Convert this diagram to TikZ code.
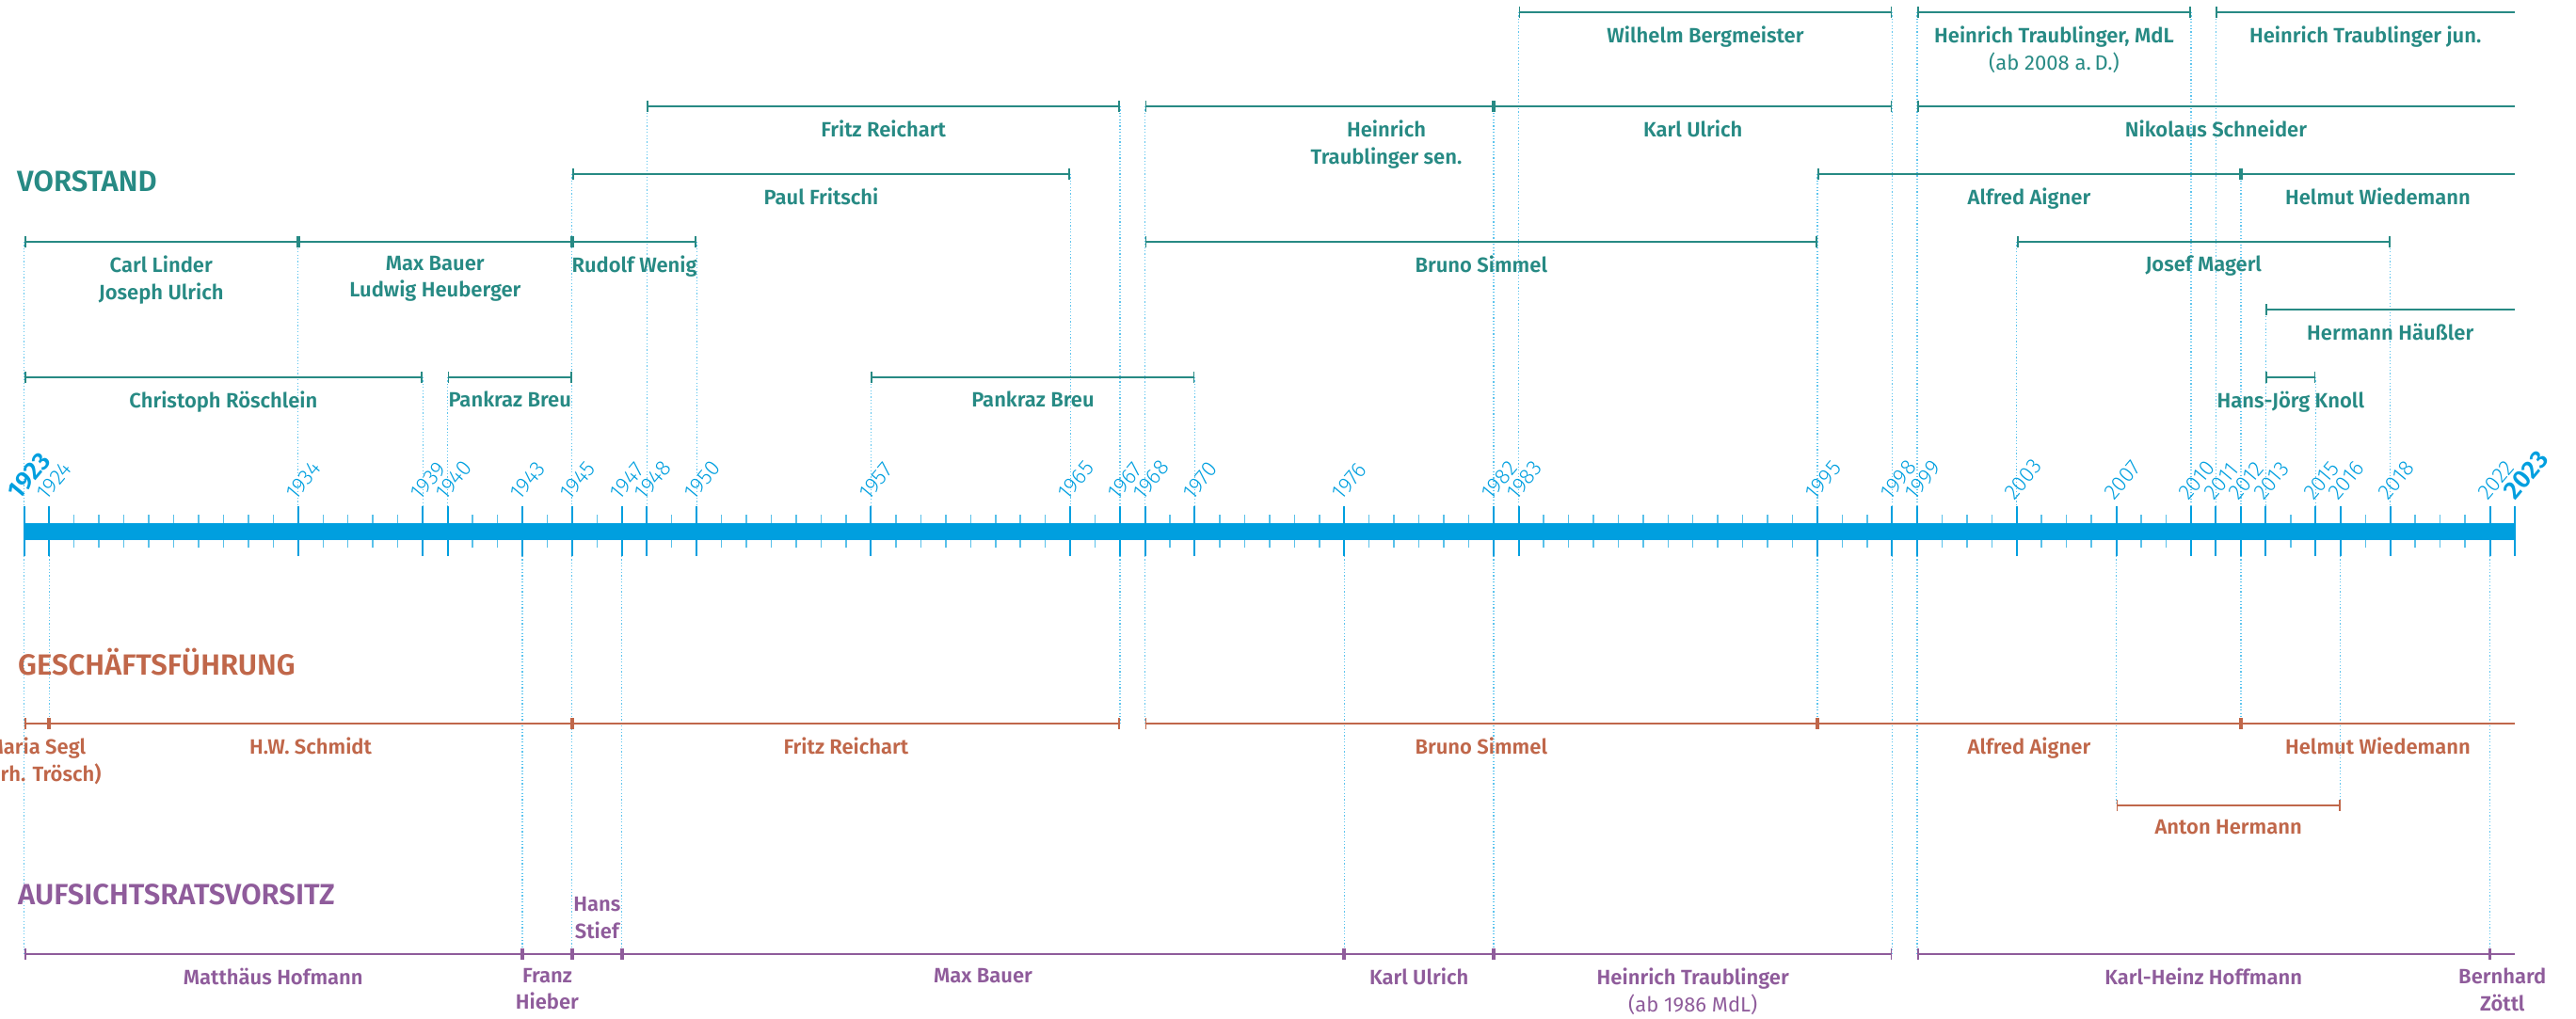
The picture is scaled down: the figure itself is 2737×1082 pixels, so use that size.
\documentclass[tikz,border=0pt]{standalone}
\usepackage{fontspec}
\setmainfont{Fira Sans}[BoldFont={Fira Sans SemiBold}]
\newfontfamily\jahrfont{Fira Sans Light}
\usetikzlibrary{arrows.meta}
\definecolor{chronTeal}{HTML}{278A84}
\definecolor{chronRust}{HTML}{C0674A}
\definecolor{chronPlum}{HTML}{8F5C9B}
\definecolor{chronBlue}{HTML}{009FDF}
\definecolor{chronSky}{HTML}{5CC4EE}

% x position of a year on the axis
\newcommand{\yx}[1]{25.7+26.463*(#1-1923)}
% one term of office: [ends]{row}{y}{from}{to}{name}{label}
\newcommand{\amt}[7][bothend]{%
  \draw[#2line, #1] ({\yx{#4}},#3) -- ({\yx{#5}},#3);
  \node[#2lab] (#6) at ({(\yx{#4}+\yx{#5})/2},#3+15) {#7};}

\begin{document}
\begin{tikzpicture}[x=1pt, y=-1pt,
    bothend/.style={{Bar[width=12pt]}-{Bar[width=12pt]}},
    openend/.style={{Bar[width=12pt]}-},
    lab/.style={anchor=north, inner sep=0pt, align=center,
      font=\fontsize{22}{28.5}\selectfont\bfseries},
    vline/.style={draw=chronTeal, line width=1.8pt},
    gline/.style={draw=chronRust, line width=1.8pt},
    aline/.style={draw=chronPlum, line width=1.8pt},
    vlab/.style={lab, text=chronTeal},
    glab/.style={lab, text=chronRust},
    alab/.style={lab, text=chronPlum},
    titel/.style={anchor=base west, inner sep=0pt,
      font=\fontsize{31}{31}\selectfont\bfseries},
    guide/.style={draw=chronSky, line width=1.2pt, dash pattern=on 1.2pt off 2.2pt},
    major/.style={draw=chronBlue, line width=2pt},
    minor/.style={draw=chronBlue!65, line width=1.5pt},
    jahr/.style={anchor=south west, rotate=50, inner sep=0pt, text=chronBlue,
      font=\jahrfont\fontsize{23}{23}\selectfont},
    jahrfett/.style={jahr, font=\fontsize{27}{27}\selectfont\bfseries}]
  \useasboundingbox (0,0) rectangle (2737,1082);
  \clip (0,0) rectangle (2737,1082);

  % dotted guides
  \foreach \j/\t in {1923/257, 1934/257, 1939/401, 1940/401, 1945/185, 1948/113,
      1950/257, 1957/401, 1965/185, 1967/113, 1968/113, 1970/401, 1982/113,
      1983/13, 1995/185, 1998/13, 1999/13, 2003/257, 2010/13, 2011/13,
      2012/185, 2013/329, 2015/401, 2018/257}
    \draw[guide] ({\yx{\j}},\t) -- ({\yx{\j}},538);
  \foreach \j/\b in {1923/1014, 1924/769, 1943/1014, 1945/1014, 1947/1014,
      1967/769, 1968/769, 1976/1014, 1982/1014, 1995/769, 1998/1014,
      1999/1014, 2007/856, 2012/769, 2016/856, 2022/1014}
    \draw[guide] ({\yx{\j}},591) -- ({\yx{\j}},\b);

  % axis
  \foreach \j in {1923,...,2023}
    \draw[minor] ({\yx{\j}},547) -- ({\yx{\j}},582);
  \fill[chronBlue] ({\yx{1923}},556) rectangle ({\yx{2023}},574);
  \foreach \j in {1923,1924,1934,1939,1940,1943,1945,1947,1948,1950,1957,1965,
      1967,1968,1970,1976,1982,1983,1995,1998,1999,2003,2007,2010,2011,2012,
      2013,2015,2016,2018,2022,2023}
    \draw[major] ({\yx{\j}},538) -- ({\yx{\j}},591);
  \foreach \j in {1924,1934,1939,1940,1943,1945,1947,1948,1950,1957,1965,
      1967,1968,1970,1976,1982,1983,1995,1998,1999,2003,2007,2010,2011,2012,
      2013,2015,2016,2018,2022}
    \node[jahr] (j\j) at ({\yx{\j}-2},533) {\j};
  \node[jahrfett] (j1923) at ({\yx{1923}-5},533) {1923};
  \node[jahrfett] (j2023) at ({\yx{2023}+1},533) {2023};

  % titles
  \node[titel, text=chronTeal] (vorstand) at (18,203) {VORSTAND};
  \node[titel, text=chronRust] (gf) at (19,717) {GESCHÄFTSFÜHRUNG};
  \node[titel, text=chronPlum] (arv) at (19,961) {AUFSICHTSRATSVORSITZ};

  % Vorstand
  \amt{v}{13}{1983}{1998}{vbergm}{Wilhelm Bergmeister}
  \amt{v}{13}{1999}{2010}{vtraubmdl}{Heinrich Traublinger, MdL\\{\mdseries(ab 2008 a.\,D.)}}
  \amt[openend]{v}{13}{2011}{2023}{vtraubjun}{Heinrich Traublinger jun.}
  \amt{v}{113}{1948}{1967}{vreich}{Fritz Reichart}
  \draw[vline, bothend] ({\yx{1968}},113) -- ({\yx{1982}},113);
  \node[vlab] (vtraubsen) at (1473,128) {Heinrich\\Traublinger sen.};
  \amt{v}{113}{1982}{1998}{vulrich}{Karl Ulrich}
  \amt[openend]{v}{113}{1999}{2023}{vschneid}{Nikolaus Schneider}
  \amt{v}{185}{1945}{1965}{vfritschi}{Paul Fritschi}
  \amt{v}{185}{1995}{2012}{vaigner}{Alfred Aigner}
  \amt[openend]{v}{185}{2012}{2023}{vwiede}{Helmut Wiedemann}
  \amt{v}{257}{1923}{1934}{vlinder}{Carl Linder\\Joseph Ulrich}
  \amt{v}{257}{1934}{1945}{vbauer}{Max Bauer\\Ludwig Heuberger}
  \amt{v}{257}{1945}{1950}{vwenig}{Rudolf Wenig}
  \amt{v}{257}{1968}{1995}{vsimmel}{Bruno Simmel}
  \amt{v}{257}{2003}{2018}{vmagerl}{Josef Magerl}
  \amt[openend]{v}{329}{2013}{2023}{vhaeussler}{Hermann Häußler}
  \amt{v}{401}{1923}{1939}{vroeschl}{Christoph Röschlein}
  \amt{v}{401}{1940}{1945}{vbreu}{Pankraz Breu}
  \amt{v}{401}{1957}{1970}{vbreuzwei}{Pankraz Breu}
  \amt{v}{401}{2013}{2015}{vknoll}{Hans-Jörg Knoll}

  % Geschaeftsfuehrung
  \amt{g}{769}{1923}{1924}{gsegl}{Maria Segl\\(verh. Trösch)}
  \amt{g}{769}{1924}{1945}{gschmidt}{H.W. Schmidt}
  \amt{g}{769}{1945}{1967}{greich}{Fritz Reichart}
  \amt{g}{769}{1968}{1995}{gsimmel}{Bruno Simmel}
  \amt{g}{769}{1995}{2012}{gaigner}{Alfred Aigner}
  \amt[openend]{g}{769}{2012}{2023}{gwiede}{Helmut Wiedemann}
  \amt{g}{856}{2007}{2016}{ghermann}{Anton Hermann}

  % Aufsichtsratsvorsitz
  \amt{a}{1014}{1923}{1943}{ahofmann}{Matthäus Hofmann}
  \amt{a}{1014}{1943}{1945}{ahieber}{Franz\\Hieber}
  \draw[aline, bothend] ({\yx{1945}},1014) -- ({\yx{1947}},1014);
  \node[alab, anchor=south] (astief) at ({(\yx{1945}+\yx{1947})/2},998) {Hans\\Stief};
  \amt{a}{1014}{1947}{1976}{abauer}{Max Bauer}
  \amt{a}{1014}{1976}{1982}{aulrich}{Karl Ulrich}
  \amt{a}{1014}{1982}{1998}{atraub}{Heinrich Traublinger\\{\mdseries(ab 1986 MdL)}}
  \amt{a}{1014}{1999}{2022}{ahoffm}{Karl-Heinz Hoffmann}
  \amt[openend]{a}{1014}{2022}{2023}{azoettl}{Bernhard\\Zöttl}
\end{tikzpicture}
\end{document}
